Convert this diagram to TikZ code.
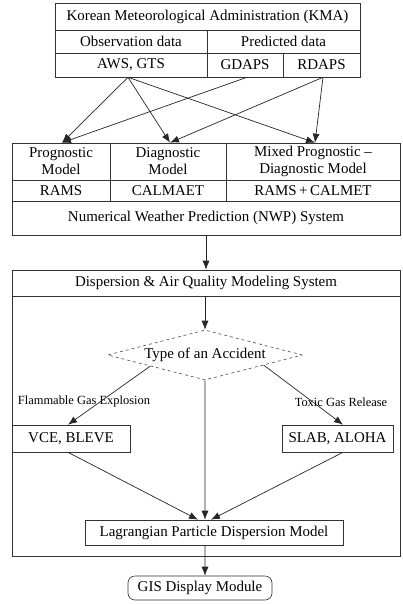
\documentclass[tikz,border=0pt]{standalone}
\usepackage{fontspec}
\setmainfont{Liberation Serif}
\usetikzlibrary{shapes.geometric,arrows.meta,calc}
\begin{document}
\begin{tikzpicture}[x=1bp,y=-1bp,
  cell/.style={draw=black!80, line width=0.6bp, rectangle, inner sep=0pt, align=center,
    font=\fontsize{15}{17}\selectfont},
  arr/.style={draw=black!85, line width=0.7bp, -{Latex[length=9bp,width=7bp]}},
  lbl/.style={font=\fontsize{12.5}{14}\selectfont, inner sep=0pt}]
\useasboundingbox[fill=white] (0,0) rectangle (402,605);
% KMA table
\node[cell, minimum width=305bp, minimum height=27bp] (kma) at (207.5,16.5) {Korean Meteorological Administration (KMA)};
\node[cell, minimum width=152bp, minimum height=23bp] (obs) at (131,41.5) {Observation data};
\node[cell, minimum width=153bp, minimum height=23bp] (pred) at (283.5,41.5) {Predicted data};
\node[cell, minimum width=152bp, minimum height=24bp] (aws) at (131,65) {AWS, GTS};
\node[cell, minimum width=76bp, minimum height=24bp] (gdaps) at (245,65) {GDAPS};
\node[cell, minimum width=77bp, minimum height=24bp] (rdaps) at (321.5,65) {RDAPS};
% NWP table
\node[cell, minimum width=98bp, minimum height=37bp] (prog) at (61,161.5) {Prognostic\\Model};
\node[cell, minimum width=116bp, minimum height=37bp] (diag) at (168,161.5) {Diagnostic\\Model};
\node[cell, minimum width=174bp, minimum height=37bp] (mixed) at (313,161.5) {Mixed Prognostic –\\Diagnostic Model};
\node[cell, minimum width=98bp, minimum height=21bp] (rams) at (61,190.5) {RAMS};
\node[cell, minimum width=116bp, minimum height=21bp] (calm) at (168,190.5) {CALMAET};
\node[cell, minimum width=174bp, minimum height=21bp] (rc) at (313,190.5) {RAMS\,+\,CALMET};
\node[cell, minimum width=388bp, minimum height=34bp] (nwp) at (206,218) {Numerical Weather Prediction (NWP) System};
% arrows KMA -> models
\draw[arr] ([xshift=-3bp]aws.south) -- ([xshift=1bp]prog.north);
\draw[arr] ([xshift=-3bp]aws.south) -- ([xshift=2bp]diag.north);
\draw[arr] ([xshift=-3bp]aws.south) -- ([xshift=2bp]mixed.north);
\draw[arr] ([xshift=2bp]gdaps.south) -- ([xshift=1bp]prog.north);
\draw[arr] ([xshift=1.5bp]rdaps.south) -- ([xshift=2bp]diag.north);
\draw[arr] ([xshift=1.5bp]rdaps.south) -- ([xshift=2bp]mixed.north);
% dispersion system
\node[cell, minimum width=388bp, minimum height=286bp] (disp) at (206,413) {};
\node[cell, minimum width=388bp, minimum height=26bp] (dtitle) at (206,283) {Dispersion \& Air Quality Modeling System};
\draw[arr] (nwp.south) -- (dtitle.north);
\node[shape=diamond, aspect=3.9, draw=black!70, dashed, line width=0.6bp, inner sep=0pt,
      minimum width=195bp, minimum height=50bp, font=\fontsize{15}{17}\selectfont] (acc) at (205,355) {Type of an Accident};
\draw[arr] ([xshift=-1bp]dtitle.south) -- (acc.north);
\node[cell, minimum width=118bp, minimum height=27bp] (vce) at (71,438.5) {VCE, BLEVE};
\node[cell, minimum width=111bp, minimum height=27bp] (slab) at (337.5,438.5) {SLAB, ALOHA};
\node[lbl] (lflam) at (84,402) {Flammable Gas Explosion};
\node[lbl] (ltox) at (341,402) {Toxic Gas Release};
\draw[arr] ($(acc.south)!0.56!(acc.west)$) -- ([xshift=-3bp]vce.north);
\draw[arr] ($(acc.south)!0.6!(acc.east)$) -- ([xshift=5.5bp]slab.north);
\node[cell, minimum width=258bp, minimum height=25bp] (lag) at (214,532.5) {Lagrangian Particle Dispersion Model};
\draw[arr] (acc.south) -- ([xshift=-9bp]lag.north);
\draw[arr] ([xshift=-3bp]vce.south) -- ([xshift=-16bp]lag.north);
\draw[arr] ([xshift=5.5bp]slab.south) -- ([xshift=-3bp]lag.north);
\node[cell, rounded corners=7bp, minimum width=144bp, minimum height=24bp] (gis) at (200,588) {GIS Display Module};
\draw[arr] ([xshift=-9bp]lag.south) -- ([xshift=5bp]gis.north);
\end{tikzpicture}
\end{document}
